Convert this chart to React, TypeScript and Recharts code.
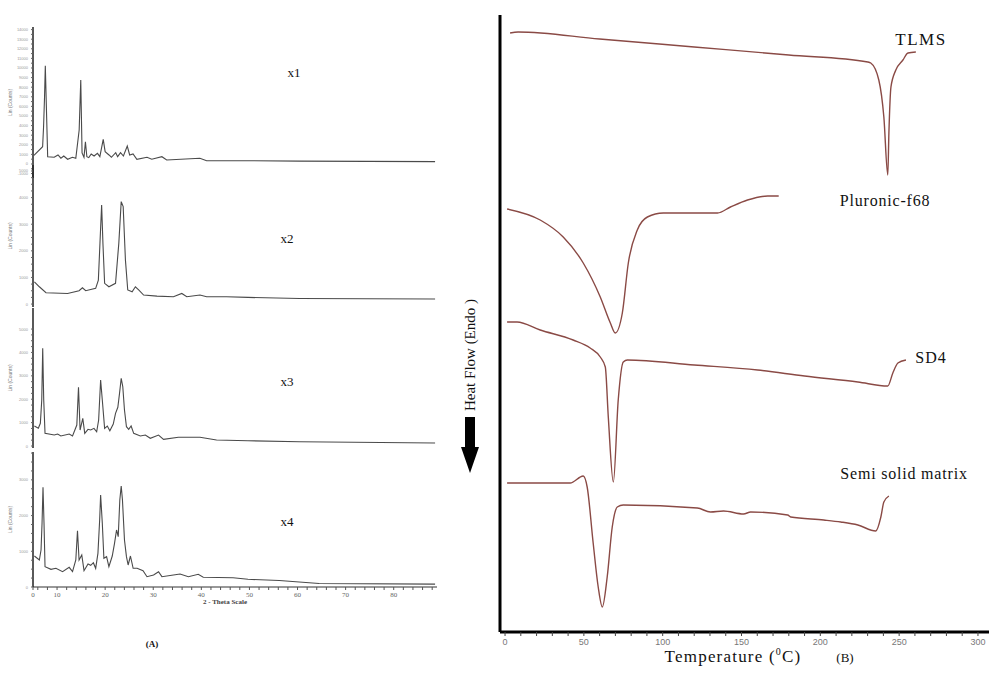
import React from "react";
import { LineChart, Line, XAxis, YAxis } from "recharts";

// XRD patterns: [2-theta, counts]
const xrdX1: [number, number][] = [
  [5.2, 900], [7.0, 1800], [7.2, 3900], [7.4, 7000], [7.56, 10240], [8.05, 760],
  [9.4, 700], [10.2, 940], [10.8, 600], [11.4, 830], [12.2, 490], [13.2, 700],
  [13.9, 600], [14.6, 3540], [14.93, 8750], [15.2, 1150], [15.6, 700], [15.9, 2300],
  [16.2, 760], [16.6, 660], [17.1, 1040], [17.7, 830], [18.4, 1110], [18.9, 760],
  [19.6, 2570], [20.0, 1280], [20.8, 940], [21.3, 700], [22.2, 1180], [22.6, 760],
  [23.2, 1180], [23.8, 830], [24.6, 1870], [25.1, 940], [25.8, 1040], [26.6, 490],
  [28.7, 700], [29.7, 490], [31.8, 760], [32.8, 420], [39.7, 590], [41.1, 340],
  [49.6, 340], [60.4, 300], [88.6, 250],
];

const xrdX2: [number, number][] = [
  [5.29, 838], [6.32, 650], [7.7, 425], [12.19, 400], [14.58, 500], [15.28, 613],
  [15.96, 500], [18.03, 590], [18.59, 900], [18.92, 2280], [19.27, 3720], [19.54, 2280],
  [19.89, 780], [20.78, 650], [22.16, 780], [22.84, 2280], [23.34, 3850], [23.75, 3660],
  [24.22, 1650], [24.7, 530], [25.61, 460], [26.29, 650], [26.97, 530], [28.0, 340],
  [30.77, 300], [34.2, 275], [35.94, 400], [36.97, 275], [39.72, 340], [41.1, 275],
  [45.23, 275], [49.69, 250], [60.4, 210], [88.6, 190],
];

const xrdX3: [number, number][] = [
  [5.29, 855], [6.11, 756], [6.53, 970], [6.82, 1966], [7.02, 4175], [7.23, 1966],
  [7.5, 543], [9.42, 470], [10.12, 513], [10.8, 427], [12.52, 513], [13.22, 427],
  [14.11, 897], [14.46, 2508], [14.79, 684], [15.35, 1183], [15.76, 543], [16.44, 714],
  [17.0, 684], [17.68, 756], [18.24, 611], [18.65, 1111], [19.06, 2820], [19.41, 1966],
  [19.89, 756], [20.45, 855], [20.98, 654], [21.69, 940], [22.16, 1397], [22.64, 1654],
  [22.99, 2252], [23.34, 2893], [23.67, 2534], [24.02, 1538], [24.43, 825], [24.9, 714],
  [25.4, 855], [25.94, 543], [27.32, 427], [28.36, 470], [29.39, 329], [31.1, 470],
  [32.14, 286], [35.23, 372], [39.72, 372], [43.16, 256], [49.69, 227], [60.4, 180],
  [88.6, 130],
];

const xrdX4: [number, number][] = [
  [5.29, 868], [6.32, 756], [6.67, 1036], [6.88, 1784], [7.08, 2792], [7.29, 1784],
  [7.5, 569], [8.74, 495], [9.77, 523], [11.15, 430], [12.52, 551], [13.22, 430],
  [13.9, 756], [14.25, 1577], [14.58, 756], [15.14, 896], [15.61, 457], [16.44, 644],
  [17.0, 607], [17.55, 681], [18.03, 523], [18.5, 943], [18.86, 1876], [19.06, 2577],
  [19.41, 1784], [19.74, 803], [20.3, 849], [20.78, 569], [21.48, 868], [21.95, 1224],
  [22.37, 1597], [22.72, 1409], [23.05, 2437], [23.34, 2829], [23.6, 2437], [24.02, 1317],
  [24.43, 849], [24.78, 616], [25.26, 868], [25.82, 523], [26.64, 523], [27.88, 457],
  [28.7, 289], [30.07, 336], [31.1, 429], [31.8, 289], [34.2, 336], [35.58, 364],
  [37.3, 289], [39.36, 355], [40.4, 271], [46.6, 261], [49.69, 215], [56.2, 180],
  [64.5, 100], [88.6, 80],
];

// DSC thermograms: [temperature °C, heat flow (a.u., offset)]
const dscTlms: [number, number][] = [
  [3.2, 59.9], [8.3, 60.0], [60, 59.3], [120, 58.5], [180, 57.7], [230.1, 57.0],
  [232, 56.9], [237.1, 55.2], [240.3, 51.5], [242.8, 45.7], [243.5, 49.9], [244.8, 54.5],
  [247.9, 56.2], [252.4, 57.2], [255.6, 57.9], [260.6, 58.0],
];

const dscPluronic: [number, number][] = [
  [1.3, 42.3], [22.3, 41.2], [36.9, 39.5], [49.6, 36.9], [60.4, 33.5], [66.8, 30.9],
  [69.9, 29.9], [74.4, 31.9], [78.2, 36.9], [83.9, 40.2], [90.3, 41.5], [100.4, 41.9],
  [134.8, 41.9], [143, 42.5], [153.8, 43.2], [166.6, 43.6], [173.6, 43.6],
];

const dscSd4: [number, number][] = [
  [1.3, 31.0], [7.6, 31.0], [22.3, 30.2], [43.2, 29.2], [54, 28.4], [60.4, 27.5],
  [63.6, 26.5], [65.5, 21.5], [68.7, 15.0], [71.8, 23.2], [75, 27.0], [77.6, 27.2],
  [120, 26.7], [160.2, 26.2], [190, 25.6], [223.8, 25.0], [242.8, 24.6], [246, 25.9],
  [249.2, 26.9], [254.3, 27.2],
];

const dscSemi: [number, number][] = [
  [1.3, 14.9], [41.3, 14.9], [49.6, 15.6], [52.1, 14.5], [55.9, 8.9], [59.1, 4.5],
  [61.7, 2.5], [64.8, 5.5], [68, 10.5], [71.2, 12.5], [75, 12.7], [122, 12.4],
  [130.3, 12.0], [138.6, 12.1], [151.3, 11.8], [155.8, 12.0], [179.3, 11.7],
  [181.2, 11.5], [202.2, 11.2], [213, 11.0], [223.8, 10.7], [235.2, 10.1],
  [238.4, 11.5], [240.3, 13.0], [243.5, 13.6],
];

const thetaTicks = [5, 6, 8, 10, 12, 14, 16, 18, 20, 22, 24, 26, 28, 30, 32, 34, 36, 38, 40,
  42, 44, 46, 48, 50, 52, 54, 56, 58, 60, 62, 64, 66, 68, 70, 72, 74, 76, 78, 80, 82, 84, 86, 88];
const tempTicks = [0, 10, 20, 30, 40, 50, 60, 70, 80, 90, 100, 110, 120, 130, 140, 150, 160,
  170, 180, 190, 200, 210, 220, 230, 240, 250, 260, 270, 280, 290, 300];
const countTicksX1 = [-1000, -500, 0, 500, 1000, 1500, 2000, 2500, 3000, 3500, 4000, 4500, 5000,
  5500, 6000, 6500, 7000, 7500, 8000, 8500, 9000, 9500, 10000, 10500, 11000, 11500, 12000,
  12500, 13000, 13500, 14000];
const countTicks5k = [0, 250, 500, 750, 1000, 1250, 1500, 1750, 2000, 2250, 2500, 2750, 3000,
  3250, 3500, 3750, 4000, 4250, 4500, 4750, 5000];
const countTicks3k = [0, 250, 500, 750, 1000, 1250, 1500, 1750, 2000, 2250, 2500, 2750, 3000,
  3250, 3500, 3750];

const rows = (pts: [number, number][]) => pts.map(([x, y]) => ({ x, y }));

const SERIF = "'Liberation Serif', 'DejaVu Serif', serif";
const DSC_COLOR = "#8a4a45";

const CountTick = (props: any) => {
  const { x, y, payload } = props;
  if (payload.value % 1000 !== 0) return <g />;
  return (
    <text x={x - 1} y={y} dy={1.5} textAnchor="end" fontSize={4} style={{ fill: "#999" }} fontFamily="Liberation Sans">
      {payload.value}
    </text>
  );
};

const ThetaTick = (props: any) => {
  const { x, y, payload } = props;
  const v = payload.value;
  const label = v === 5 ? "0" : v % 10 === 0 ? String(v) : "";
  if (!label) return <g />;
  return (
    <text x={x} y={y} dy={5} textAnchor="middle" fontSize={7} style={{ fill: "#666" }} fontFamily={SERIF}>
      {label}
    </text>
  );
};

const TempTick = (props: any) => {
  const { x, y, payload } = props;
  if (payload.value % 50 !== 0) return <g />;
  return (
    <text x={x} y={y} dy={7} textAnchor="middle" fontSize={9} style={{ fill: "#777" }} fontFamily="Liberation Sans">
      {payload.value}
    </text>
  );
};

interface XrdProps {
  top: number;
  height: number;
  pts: [number, number][];
  domain: [number, number];
  ticks: number[];
  axis?: boolean;
}

function XrdPanel({ top, height, pts, domain, ticks, axis }: XrdProps) {
  return (
    <div style={{ position: "absolute", left: 0, top }}>
      <LineChart width={437} height={height + (axis ? 22 : 0)} margin={{ top: 0, right: 0, bottom: 0, left: 0 }}>
        <XAxis
          type="number"
          dataKey="x"
          domain={[5, 89]}
          allowDataOverflow
          hide={!axis}
          ticks={thetaTicks}
          interval={0}
          height={22}
          tick={ThetaTick}
          tickSize={3}
          axisLine={{ stroke: "#333", strokeWidth: 1.2 }}
          tickLine={{ stroke: "#555" }}
        />
        <YAxis
          type="number"
          domain={domain}
          allowDataOverflow
          ticks={ticks}
          interval={0}
          width={33}
          tick={CountTick}
          tickSize={2}
          axisLine={{ stroke: "#222", strokeWidth: 1.5 }}
          tickLine={{ stroke: "#666" }}
          label={{
            value: "Lin (Counts)",
            angle: -90,
            position: "insideLeft",
            offset: 10,
            style: { fontSize: 5, fill: "#777", textAnchor: "middle", fontFamily: "Liberation Sans" },
          }}
        />
        <Line
          data={rows(pts)}
          dataKey="y"
          type="linear"
          stroke="#4a4a4a"
          strokeWidth={1.1}
          dot={false}
          isAnimationActive={false}
        />
      </LineChart>
    </div>
  );
}

const label = (x: number, y: number, size: number, extra: React.CSSProperties = {}) => ({
  position: "absolute" as const,
  left: x,
  top: y,
  transform: "translate(-50%, -50%)",
  fontFamily: SERIF,
  fontSize: size,
  color: "#111",
  whiteSpace: "nowrap" as const,
  lineHeight: 1,
  ...extra,
});

export default function App() {
  return (
    <div style={{ position: "absolute", left: 0, top: 0, width: 989, height: 673, background: "#fff", overflow: "hidden" }}>
      {/* Panel A: XRD */}
      <XrdPanel top={27} height={151} pts={xrdX1} domain={[-1460, 14270]} ticks={countTicksX1} />
      <XrdPanel top={165} height={142} pts={xrdX2} domain={[-110, 5225]} ticks={countTicks5k} />
      <XrdPanel top={308} height={140} pts={xrdX3} domain={[-85, 5900]} ticks={countTicks5k} />
      <XrdPanel top={452} height={135} pts={xrdX4} domain={[0, 3780]} ticks={countTicks3k} axis />

      <div style={label(294, 72, 13)}>x1</div>
      <div style={label(287, 238, 13)}>x2</div>
      <div style={label(287, 381, 13)}>x3</div>
      <div style={label(287, 521, 13)}>x4</div>
      <div style={label(225, 602, 7, { fontWeight: "bold", color: "#444" })}>2 - Theta Scale</div>
      <div style={label(152, 644, 9, { fontWeight: "bold" })}>(A)</div>

      {/* Panel B: DSC */}
      <div style={{ position: "absolute", left: 480, top: 0 }}>
        <LineChart width={509} height={673} margin={{ top: 15, right: 0, bottom: 0, left: 18 }}>
          <XAxis
            type="number"
            dataKey="x"
            domain={[-3.2, 307]}
            allowDataOverflow
            ticks={tempTicks}
            interval={0}
            height={41}
            tick={TempTick}
            tickSize={4}
            axisLine={{ stroke: "#000", strokeWidth: 3 }}
            tickLine={{ stroke: "#444" }}
          />
          <YAxis
            type="number"
            domain={[0, 61.7]}
            allowDataOverflow
            width={2}
            tick={false}
            tickLine={false}
            axisLine={{ stroke: "#000", strokeWidth: 3 }}
          />
          {[dscTlms, dscPluronic, dscSd4, dscSemi].map((pts, i) => (
            <Line
              key={i}
              data={rows(pts)}
              dataKey="y"
              type="monotone"
              stroke={DSC_COLOR}
              strokeWidth={1.4}
              dot={false}
              isAnimationActive={false}
            />
          ))}
        </LineChart>
      </div>

      <div style={label(921, 39, 17, { letterSpacing: 1.5 })}>TLMS</div>
      <div style={label(885, 201, 16, { letterSpacing: 0.8 })}>Pluronic-f68</div>
      <div style={label(931, 358, 16, { letterSpacing: 1 })}>SD4</div>
      <div style={label(904, 474, 16, { letterSpacing: 0.8 })}>Semi solid matrix</div>

      <div style={label(470, 355, 15, { transform: "translate(-50%, -50%) rotate(-90deg)" })}>
        Heat Flow (Endo )
      </div>
      <svg style={{ position: "absolute", left: 455, top: 410 }} width={30} height={70}>
        <rect x={10} y={7} width={10} height={31} fill="#000" />
        <polygon points="6,37 24,37 15,63" fill="#000" />
      </svg>

      <div style={label(733, 656, 17, { letterSpacing: 1.2 })}>
        Temperature (<sup style={{ fontSize: 10 }}>0</sup>C)
      </div>
      <div style={label(845, 657, 13)}>(B)</div>
    </div>
  );
}
